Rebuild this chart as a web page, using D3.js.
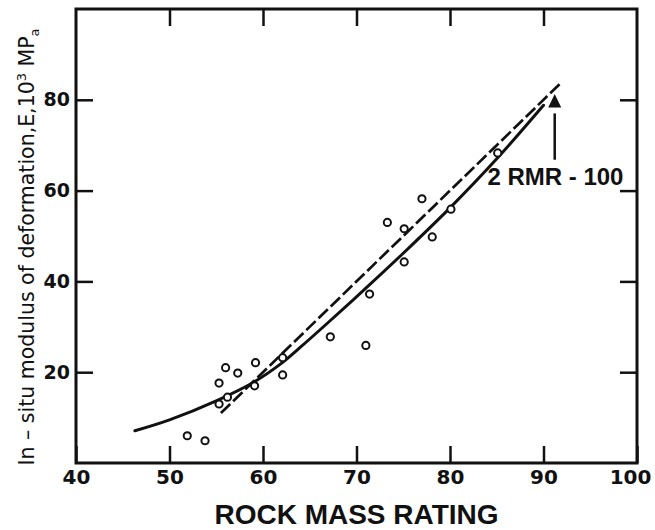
<!DOCTYPE html>
<html>
<head>
<meta charset="utf-8">
<script src="https://cdn.jsdelivr.net/npm/d3@7"></script>
<style>
  body { margin: 0; background: #fff; }
  svg { display: block; }
</style>
</head>
<body>
<svg id="chart" width="655" height="530"></svg>
<script>

// measured points: rock mass rating vs in-situ modulus
const rmr = [51.9, 53.8, 55.3, 55.3, 56.0, 56.2, 57.3, 59.2, 59.1, 62.1, 62.1, 67.2, 71.0, 71.4, 73.3, 75.1, 75.1, 77.0, 78.1, 80.1, 85.1];
const modulus = [6.0, 4.9, 13.0, 17.6, 21.0, 14.5, 19.8, 22.1, 17.0, 23.2, 19.4, 27.8, 25.9, 37.2, 53.0, 51.6, 44.3, 58.2, 49.8, 55.9, 68.3];

// fitted solid curve
const curveRmr = [46.3, 50, 55, 59, 62, 64, 67, 71, 75, 80, 85, 90];
const curveE = [7.1, 9.5, 13.7, 17.8, 22.0, 25.5, 31.0, 38.5, 46.2, 56.2, 67.0, 78.8];

// dashed line E = 2 RMR - 100
const lineRmr = [55.5, 91.8];

const xTicks = [40, 50, 60, 70, 80, 90, 100];
const yTicks = [20, 40, 60, 80];
const innerXTicks = [50, 60, 70, 80, 90];

const margin = {left: 76, top: 9, right: 18, bottom: 67};
const svg = d3.select("#chart");
const width = 655 - margin.left - margin.right;
const height = 530 - margin.top - margin.bottom;

const x = d3.scaleLinear().domain([40, 100]).range([0, width]);
const y = d3.scaleLinear().domain([0, 100]).range([height, 0]);

const g = svg.append("g")
    .attr("transform", "translate(" + margin.left + "," + margin.top + ")");

const tickLen = 17;

// bottom axis with labels
const xAxis = g.append("g")
    .attr("transform", "translate(0," + height + ")")
    .call(d3.axisBottom(x).tickValues(xTicks).tickSizeInner(-tickLen).tickSizeOuter(0).tickPadding(7));
xAxis.selectAll("text")
    .style("font-family", "'DejaVu Sans', sans-serif")
    .style("font-weight", "bold")
    .style("font-size", "20px")
    .attr("fill", "#111")
    .attr("dx", d => d == 100 ? -7 : 0);

// left axis with labels
const yAxis = g.append("g")
    .call(d3.axisLeft(y).tickValues(yTicks).tickSizeInner(-tickLen).tickSizeOuter(0).tickPadding(6));
yAxis.selectAll("text")
    .style("font-family", "'DejaVu Sans', sans-serif")
    .style("font-weight", "bold")
    .style("font-size", "19px")
    .attr("fill", "#111");

// top and right ticks, no labels
g.append("g")
    .call(d3.axisTop(x).tickValues(innerXTicks).tickSizeInner(-tickLen).tickSizeOuter(0).tickFormat(""));
g.append("g")
    .attr("transform", "translate(" + width + ",0)")
    .call(d3.axisRight(y).tickValues(yTicks).tickSizeInner(-tickLen).tickSizeOuter(0).tickFormat(""));

g.selectAll(".domain").remove();
g.selectAll(".tick line").attr("stroke", "#111").attr("stroke-width", 2.5);

// frame
g.append("rect")
    .attr("width", width)
    .attr("height", height)
    .attr("fill", "none")
    .attr("stroke", "#111")
    .attr("stroke-width", 3);

// dashed line
g.append("path")
    .datum(lineRmr)
    .attr("d", d3.line().x(d => x(d)).y(d => y(2 * d - 100)))
    .attr("fill", "none")
    .attr("stroke", "#111")
    .attr("stroke-width", 2.7)
    .attr("stroke-dasharray", "13,4");

// solid curve
g.append("path")
    .datum(d3.zip(curveRmr, curveE))
    .attr("d", d3.line().x(d => x(d[0])).y(d => y(d[1])).curve(d3.curveCatmullRom))
    .attr("fill", "none")
    .attr("stroke", "#111")
    .attr("stroke-width", 3)
    .attr("stroke-linecap", "round");

// points
g.selectAll("circle.pt")
    .data(d3.zip(rmr, modulus))
    .enter()
    .append("circle")
    .attr("class", "pt")
    .attr("cx", d => x(d[0]))
    .attr("cy", d => y(d[1]))
    .attr("r", 3.6)
    .attr("fill", "#fff")
    .attr("stroke", "#111")
    .attr("stroke-width", 2);

// arrow pointing to the dashed line
const arrowX = 91.2;
g.append("line")
    .attr("x1", x(arrowX)).attr("x2", x(arrowX))
    .attr("y1", y(66.8)).attr("y2", y(77))
    .attr("stroke", "#111")
    .attr("stroke-width", 2.5);
g.append("path")
    .attr("d", "M" + x(arrowX) + "," + y(81.3) +
               "L" + (x(arrowX) - 6.5) + "," + y(78.3) +
               "L" + (x(arrowX) + 6.5) + "," + y(78.3) + "Z")
    .attr("fill", "#111");

g.append("text")
    .attr("x", x(84))
    .attr("y", y(61.2))
    .style("font-family", "'Liberation Sans', Arial, sans-serif")
    .style("font-weight", "bold")
    .style("font-size", "24px")
    .attr("fill", "#111")
    .text("2 RMR - 100");

// axis titles
svg.append("text")
    .attr("x", margin.left + width / 2)
    .attr("y", 524)
    .attr("text-anchor", "middle")
    .style("font-family", "'Liberation Sans', Arial, sans-serif")
    .style("font-weight", "bold")
    .style("font-size", "28px")
    .attr("fill", "#111")
    .text("ROCK MASS RATING");

const yTitle = svg.append("text")
    .attr("transform", "translate(34,247) rotate(-90)")
    .attr("text-anchor", "middle")
    .style("font-family", "'DejaVu Sans', sans-serif")
    .style("font-size", "20.5px")
    .attr("fill", "#111");
yTitle.append("tspan").text("In \u2013 situ modulus of deformation,E,10");
yTitle.append("tspan").attr("dy", -8).style("font-size", "13px").text("3");
yTitle.append("tspan").attr("dy", 8).text(" MP");
yTitle.append("tspan").attr("dy", 5).style("font-size", "13px").text("a");

</script>
</body>
</html>
